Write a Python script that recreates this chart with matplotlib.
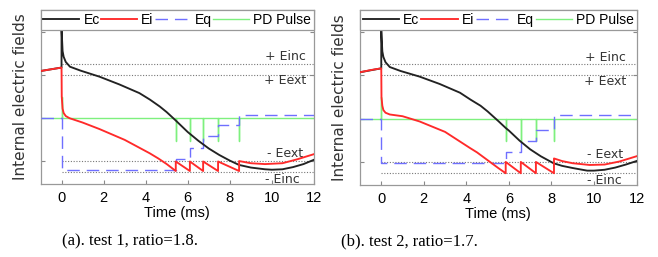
import numpy as np
import matplotlib.pyplot as plt

# levels of the dotted reference lines (in units of Eext)
E_EXT = 1.0
E_INC = 1.25

# ---- test 1 (a) ----
ec_t_a = [-1, 0, 0, 0.05, 0.1, 0.2, 0.4, 0.9, 1.8, 2.75, 3.7, 4.2, 4.67, 5.0, 5.4, 6.0,
          6.5, 7.0, 7.5, 8.0, 8.44, 9.0, 9.67, 10.0, 10.5, 11.0, 11.5, 12.0]
ec_v_a = [1.09, 1.17, 2.07, 1.55, 1.42, 1.3, 1.19, 1.1, 0.96, 0.78, 0.58, 0.43, 0.27, 0.14, -0.04,
          -0.32, -0.52, -0.7, -0.85, -0.98, -1.08, -1.14, -1.18, -1.19, -1.18, -1.13, -1.06, -0.96]
ei_t_a = [-1, -0.5, 0, 0.01, 0.05, 0.1, 0.2, 0.38, 1.0, 1.8, 3.0, 4.19, 4.6, 5.0, 5.43,
          5.43, 6.1, 6.1, 6.73, 6.73, 7.44, 7.44, 8.44,
          8.44, 9.0, 9.67, 10.5, 11.2, 12.0]
ei_v_a = [1.09, 1.13, 1.17, 0.5, 0.22, 0.12, 0.05, 0.0, -0.1, -0.25, -0.5, -0.81, -0.93, -1.06, -1.22,
          -1.0, -1.22, -1.0, -1.22, -1.0, -1.22, -1.0, -1.22,
          -0.99, -1.04, -1.06, -1.04, -0.95, -0.83]
eq_t_a = [-1, 0, 5.43, 6.1, 6.73, 7.44, 8.44, 12]
eq_v_a = [0, -1.19, -0.95, -0.68, -0.41, -0.15, 0.08, 0.08]
pd_t_a = [0, 5.43, 6.1, 6.73, 7.44, 8.44]
pd_v_a = [0.48, -0.52, -0.52, -0.52, -0.52, -0.52]

# ---- test 2 (b) ----
ec_t_b = [-1, 0, 0, 0.05, 0.1, 0.2, 0.4, 0.9, 1.8, 2.75, 3.7, 4.2, 4.67, 5.0, 5.5, 5.85, 6.0,
          6.5, 7.0, 7.5, 8.1, 8.5, 9.0, 9.68, 10.0, 10.5, 11.0, 11.5, 12.0]
ec_v_b = [1.07, 1.16, 2.03, 1.55, 1.42, 1.3, 1.19, 1.1, 0.97, 0.8, 0.6, 0.44, 0.3, 0.17, -0.05, -0.21, -0.27,
          -0.5, -0.7, -0.86, -1.02, -1.08, -1.13, -1.19, -1.19, -1.17, -1.12, -1.05, -0.97]
ei_t_b = [-1, -0.5, 0, 0.01, 0.05, 0.1, 0.2, 0.4, 1.0, 1.8, 3.0, 4.17, 4.5, 5.0, 5.5, 5.85,
          5.85, 6.56, 6.56, 7.27, 7.27, 8.12,
          8.12, 8.5, 9.0, 9.8, 10.5, 11.2, 12.0]
ei_v_b = [1.07, 1.12, 1.16, 0.5, 0.3, 0.2, 0.14, 0.1, 0.06, -0.06, -0.3, -0.67, -0.77, -0.95, -1.13, -1.25,
          -0.99, -1.25, -0.99, -1.25, -0.99, -1.25,
          -0.91, -0.97, -1.02, -1.06, -1.05, -0.98, -0.86]
eq_t_b = [-1, 0, 5.85, 6.56, 7.27, 8.12, 12]
eq_v_b = [0, -1.02, -0.77, -0.52, -0.25, 0.09, 0.09]
pd_t_b = [0, 5.85, 6.56, 7.27, 8.12]
pd_v_b = [0.49, -0.52, -0.52, -0.52, -0.52]

captions = ["(a). test 1, ratio=1.8.", "(b). test 2, ratio=1.7."]

plt.rcParams['font.family'] = 'Liberation Sans'

fig = plt.figure(figsize=(6.58, 2.57), dpi=100)
W, H = 658, 257
boxes = [(40.5, 10, 314, 184), (360, 10, 636.5, 185)]
label_x = [(11.62, 11.62, 11.5, 11.3), (11.5, 11.5, 11.35, 11.3)]

panels = [
    (ec_t_a, ec_v_a, ei_t_a, ei_v_a, eq_t_a, eq_v_a, pd_t_a, pd_v_a),
    (ec_t_b, ec_v_b, ei_t_b, ei_v_b, eq_t_b, eq_v_b, pd_t_b, pd_v_b),
]

for k, (ect, ecv, eit, eiv, eqt, eqv, pdt, pdv) in enumerate(panels):
    x0, y0, x1, y1 = boxes[k]
    ax = fig.add_axes([x0 / W, 1 - y1 / H, (x1 - x0) / W, (y1 - y0) / H])

    # dotted reference levels
    ax.hlines([E_INC, E_EXT, -E_EXT, -E_INC], 0, 12, colors='#777777',
              linestyles=(0, (1, 1.5)), linewidth=0.8, zorder=1)

    # PD pulse trace: baseline with spikes
    gx, gy = [-1], [0]
    for t, a in zip(pdt, pdv):
        gx += [t, t, t]
        gy += [0, a, 0]
    gx.append(12)
    gy.append(0)
    l_pd, = ax.plot(gx, gy, color='#7ef07e', lw=1.0, zorder=2)

    l_eq, = ax.plot(eqt, eqv, color='#6f6fff', lw=1.0, dashes=(9, 5),
                    drawstyle='steps-post', zorder=3)
    l_ec, = ax.plot(ect, ecv, color='#222222', lw=1.35, zorder=4)
    l_ei, = ax.plot(eit, eiv, color='#ff2a2a', lw=1.35, zorder=5)

    lx = label_x[k]
    tkw = dict(ha='right', va='center', fontsize=9, color='#333333', family='DejaVu Sans')
    ax.text(lx[0], 1.42, '+ Einc', **tkw)
    ax.text(lx[1], 0.86, '+ Eext', **tkw)
    ax.text(lx[2], -0.82, '- Eext', **tkw)
    ax.text(lx[3], -1.42, '- Einc', **tkw)

    ax.set_xlim(-1, 12)
    ax.set_ylim(-1.52, 2.5)
    ax.set_xticks(range(0, 13, 2))
    ax.set_yticks([-1, 0, 1, 2])
    ax.set_yticklabels([])
    ax.tick_params(direction='in', length=3, color='#888888', labelsize=10.5,
                   right=True, top=True, pad=5)
    for s in ax.spines.values():
        s.set_color('#999999')
        s.set_linewidth(0.9)
    ax.set_xlabel('Time (ms)', fontsize=10.5, labelpad=1)
    ax.set_ylabel('Internal electric fields', fontsize=11, color='#333333',
                  family='DejaVu Sans', labelpad=4)

    leg = ax.legend([l_ec, l_ei, l_eq, l_pd], ['Ec', 'Ei', 'Eq', 'PD Pulse'],
                    loc='upper left', bbox_to_anchor=(0, 1, 1, 0), mode='expand',
                    ncol=4, borderaxespad=0, fancybox=False, fontsize=10,
                    handlelength=2.6, handletextpad=0.3, columnspacing=0.4,
                    borderpad=0.2, framealpha=1)
    leg.get_frame().set_edgecolor('#999999')
    leg.get_frame().set_linewidth(0.9)

fig.text(130.5 / W, 1 - 241 / H, captions[0], ha='center', va='center',
         fontsize=12, family='Liberation Serif')
fig.text(409 / W, 1 - 241 / H, captions[1], ha='center', va='center',
         fontsize=12, family='Liberation Serif')

fig.savefig('out.png', dpi=100)
